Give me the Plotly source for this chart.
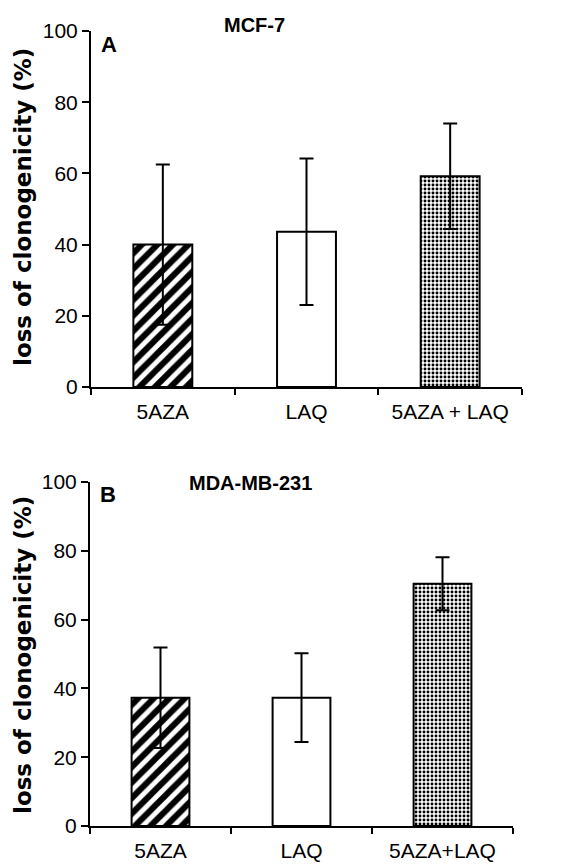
import plotly.graph_objects as go

categories_a = ["5AZA", "LAQ", "5AZA + LAQ"]
values_a = [40.0, 43.6, 59.2]
errors_a = [22.5, 20.6, 14.8]

categories_b = ["5AZA", "LAQ", "5AZA+LAQ"]
values_b = [37.3, 37.3, 70.4]
errors_b = [14.6, 12.9, 7.7]

title_a = "MCF-7"
title_b = "MDA-MB-231"
y_title = "loss of clonogenicity (%)"
y_ticks = [0, 20, 40, 60, 80, 100]

W, H = 578, 864

def px_x(p):
    return p / W

def px_y(p):
    return 1 - p / H

patterns = [
    dict(shape="/", size=11, solidity=0.55, fgcolor="black", bgcolor="white", fgopacity=1),
    dict(shape="", fgcolor="black", bgcolor="white"),
    dict(shape=".", size=4, solidity=0.42, fgcolor="black", bgcolor="white", fgopacity=1),
]

fig = go.Figure()

def add_panel(cats, vals, errs, xa, ya):
    for c, v, e, p in zip(cats, vals, errs, patterns):
        fig.add_trace(go.Bar(
            x=[c], y=[v], xaxis=xa, yaxis=ya, width=0.41,
            marker=dict(color="white", line=dict(color="black", width=2), pattern=p),
            error_y=dict(type="data", array=[e], color="black", thickness=2, width=7),
            showlegend=False,
        ))

add_panel(categories_a, values_a, errors_a, "x", "y")
add_panel(categories_b, values_b, errors_b, "x2", "y2")

tickfont = dict(family="Liberation Sans, Arial, sans-serif", size=21, color="black")

def xaxis(domain, anchor, cats):
    return dict(domain=domain, anchor=anchor, type="category", categoryorder="array",
                categoryarray=cats, range=[-0.5, 2.5], tickson="boundaries",
                ticks="outside", ticklen=6, tickwidth=2, tickcolor="black",
                ticklabelstandoff=5,
                showline=True, linecolor="black", linewidth=2, showgrid=False,
                zeroline=False, tickfont=tickfont, automargin=False, fixedrange=True)

def yaxis(domain, anchor):
    return dict(domain=domain, anchor=anchor, range=[0, 100], tickvals=y_ticks,
                ticks="outside", ticklen=7, tickwidth=2, tickcolor="black",
                showline=True, linecolor="black", linewidth=2, showgrid=False,
                zeroline=False, tickfont=tickfont, automargin=False, fixedrange=True)

fig.update_layout(
    width=W, height=H,
    margin=dict(l=0, r=0, t=0, b=0),
    paper_bgcolor="white", plot_bgcolor="white",
    barmode="overlay",
    xaxis=xaxis([px_x(91), px_x(522)], "y", categories_a),
    yaxis=yaxis([px_y(387), px_y(31)], "x"),
    xaxis2=xaxis([px_x(90), px_x(513)], "y2", categories_b),
    yaxis2=yaxis([px_y(826), px_y(482)], "x2"),
)

titlefont = dict(family="Liberation Sans, Arial, sans-serif", size=20, color="black", weight="bold")
letterfont = dict(family="Liberation Sans, Arial, sans-serif", size=22, color="black", weight="bold")
ytfont = dict(family="DejaVu Sans, sans-serif", size=23, color="black", weight="bold")

def ann(x, y, text, font, angle=0):
    fig.add_annotation(x=px_x(x), y=px_y(y), xref="paper", yref="paper", text=text,
                       showarrow=False, font=font, textangle=angle,
                       xanchor="center", yanchor="middle")

ann(254, 25, title_a, titlefont)
ann(250, 483, title_b, titlefont)
ann(109, 44, "A", letterfont)
ann(108, 494, "B", letterfont)
ann(23, 207, y_title, ytfont, -90)
ann(23, 655, y_title, ytfont, -90)

fig.write_html(
    "out.html",
    config={"displayModeBar": False},
    post_script="document.body.style.margin='0';document.body.style.overflow='hidden';",
)
